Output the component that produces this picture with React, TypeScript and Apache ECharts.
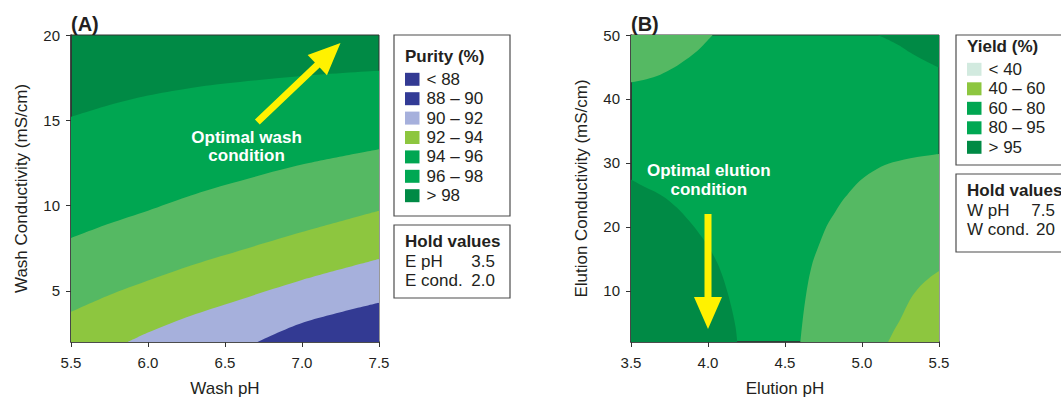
import React, { useEffect, useRef } from "react";
import * as echarts from "echarts";

const FONT = "'Liberation Sans', Arial, Helvetica, sans-serif";
const TXT = "#231f20";

// colours
const C_DKBLUE = "#333a93";
const C_LTBLUE = "#a6b0dc";
const C_YG = "#8dc63f";
const C_LTGREEN = "#55b963";
const C_GREEN = "#00a651";
const C_DKGREEN = "#008a45";
const C_PALE = "#d2eadf";
const C_ARROW = "#fff200";

// ---------- Panel A : Purity ----------
const washPhTicks = [5.5, 6.0, 6.5, 7.0, 7.5];
const washCondTicks = [5, 10, 15, 20];
// contour boundaries [wash pH, wash conductivity]
const purity98: number[][] = [[5.5, 15.2], [5.75, 15.9], [6.0, 16.45], [6.25, 16.85], [6.5, 17.15], [7.0, 17.6], [7.5, 17.9]];
const purity96: number[][] = [[5.5, 8.1], [5.75, 8.95], [6.0, 9.7], [6.25, 10.5], [6.5, 11.2], [7.0, 12.4], [7.5, 13.3]];
const purity94: number[][] = [[5.5, 3.76], [5.75, 4.75], [6.0, 5.6], [6.25, 6.4], [6.5, 7.1], [7.0, 8.45], [7.5, 9.7]];
const purity92: number[][] = [[5.87, 2], [6.0, 2.55], [6.25, 3.45], [6.5, 4.2], [7.0, 5.64], [7.5, 6.87]];
const purity90: number[][] = [[6.71, 2], [7.0, 3.12], [7.5, 4.3]];
const purityLabels = ["< 88", "88 – 90", "90 – 92", "92 – 94", "94 – 96", "96 – 98", "> 98"];
const purityColors = [C_DKBLUE, "#323b96", C_LTBLUE, C_YG, C_GREEN, "#00a853", C_DKGREEN];
const holdA = [["E pH", "3.5"], ["E cond.", "2.0"]];
const arrowA = [6.71, 14.9, 7.25, 19.53];
const noteA = { x: 6.64, y: 13.45, text: "Optimal wash\ncondition" };

// ---------- Panel B : Yield ----------
const elutionPhTicks = [3.5, 4.0, 4.5, 5.0, 5.5];
const elutionCondTicks = [10, 20, 30, 40, 50];
const yieldTopLeft: number[][] = [[3.5, 42.6], [3.6, 43.1], [3.69, 43.8], [3.78, 44.9], [3.86, 46.2], [3.93, 47.5], [3.98, 48.7], [4.03, 50]];
const yieldTopRight: number[][] = [[5.1, 50], [5.15, 49.5], [5.2, 48.9], [5.26, 48.1], [5.31, 47.3], [5.4, 46.1], [5.5, 44.9]];
const yieldRight: number[][] = [[4.6, 2], [4.62, 6.5], [4.65, 11.3], [4.68, 14.5], [4.71, 16.5], [4.77, 20.1], [4.83, 22.5], [4.88, 24.3], [4.99, 27.3], [5.1, 29.1], [5.2, 30.1], [5.35, 30.9], [5.5, 31.4]];
const yieldLow: number[][] = [[5.17, 2], [5.21, 3.9], [5.25, 5.6], [5.29, 7.6], [5.33, 9.3], [5.38, 10.8], [5.44, 12.1], [5.5, 13.1]];
const yieldBottomLeft: number[][] = [[3.5, 27.4], [3.6, 26.1], [3.67, 25.3], [3.73, 24.4], [3.82, 22.5], [3.9, 20.3], [3.96, 18.4], [4.01, 16.6], [4.06, 14.4], [4.1, 11.9], [4.13, 9.5], [4.16, 6.6], [4.18, 4.2], [4.19, 2]];
const yieldLabels = ["< 40", "40 – 60", "60 – 80", "80 – 95", "> 95"];
const yieldColors = [C_PALE, C_YG, C_GREEN, "#00a853", C_DKGREEN];
const holdB = [["W pH", "7.5"], ["W cond.", "20"]];
const arrowB = [4.0, 22.0, 4.0, 4.05];
const noteB = { x: 4.005, y: 27.3, text: "Optimal elution\ncondition" };

function band(idx: number, data: number[][], color: string, origin: "start" | "end") {
  return {
    type: "line",
    xAxisIndex: idx,
    yAxisIndex: idx,
    data,
    smooth: 0.3,
    showSymbol: false,
    symbol: "none",
    silent: true,
    z: 2,
    lineStyle: { width: 0, color },
    areaStyle: { color, opacity: 1, origin },
    clip: true,
  };
}

function arrowSeries(idx: number, v: number[]) {
  return {
    type: "custom",
    xAxisIndex: idx,
    yAxisIndex: idx,
    silent: true,
    clip: false,
    z: 10,
    data: [v],
    renderItem: (_p: any, api: any) => {
      const a = api.coord([api.value(0), api.value(1)]);
      const b = api.coord([api.value(2), api.value(3)]);
      const dx = b[0] - a[0];
      const dy = b[1] - a[1];
      const len = Math.sqrt(dx * dx + dy * dy);
      const ux = dx / len, uy = dy / len;
      const nx = -uy, ny = ux;
      const headLen = 32, headW = 28, shaftW = 7;
      const bx = b[0] - ux * headLen, by = b[1] - uy * headLen;
      const pts = [
        [a[0] + nx * shaftW / 2, a[1] + ny * shaftW / 2],
        [bx + nx * shaftW / 2, by + ny * shaftW / 2],
        [bx + nx * headW / 2, by + ny * headW / 2],
        [b[0], b[1]],
        [bx - nx * headW / 2, by - ny * headW / 2],
        [bx - nx * shaftW / 2, by - ny * shaftW / 2],
        [a[0] - nx * shaftW / 2, a[1] - ny * shaftW / 2],
      ];
      return { type: "polygon", z2: 100, shape: { points: pts }, style: { fill: C_ARROW } };
    },
  };
}

function noteSeries(idx: number, n: { x: number; y: number; text: string }) {
  return {
    type: "custom",
    xAxisIndex: idx,
    yAxisIndex: idx,
    silent: true,
    clip: false,
    z: 10,
    data: [[n.x, n.y]],
    renderItem: (_p: any, api: any) => {
      const p = api.coord([api.value(0), api.value(1)]);
      return {
        type: "text",
        x: p[0],
        y: p[1],
        z2: 100,
        style: {
          text: n.text,
          fill: "#ffffff",
          fontFamily: FONT,
          fontWeight: "bold",
          fontSize: 17,
          lineHeight: 18.5,
          align: "center",
          verticalAlign: "middle",
        },
      };
    },
  };
}

function legendBox(
  left: number, top: number, width: number, height: number,
  title: string, labels: string[], colors: string[], rowTop: number, rowGap: number
) {
  const children: any[] = [
    { type: "rect", shape: { x: left, y: top, width, height }, style: { fill: "#fff", stroke: "#4d4d4d", lineWidth: 1.2 } },
    {
      type: "text", x: left + 11, y: rowTop - 22.6,
      style: { text: title, fill: TXT, font: `bold 17px ${FONT}`, verticalAlign: "middle" },
    },
  ];
  labels.forEach((lab, i) => {
    const cy = rowTop + i * rowGap;
    children.push({ type: "rect", shape: { x: left + 11, y: cy - 6.5, width: 14.5, height: 13 }, style: { fill: colors[i] } });
    children.push({
      type: "text", x: left + 32.5, y: cy,
      style: { text: lab, fill: TXT, font: `17px ${FONT}`, verticalAlign: "middle" },
    });
  });
  return children;
}

function holdBox(left: number, top: number, width: number, height: number, rows: string[][], valueRight: number) {
  const children: any[] = [
    { type: "rect", shape: { x: left, y: top, width, height }, style: { fill: "#fff", stroke: "#4d4d4d", lineWidth: 1.2 } },
    { type: "text", x: left + 11, y: top + 16, style: { text: "Hold values", fill: TXT, font: `bold 17px ${FONT}`, verticalAlign: "middle" } },
  ];
  rows.forEach((r, i) => {
    const cy = top + 36 + i * 19.5;
    children.push({ type: "text", x: left + 11, y: cy, style: { text: r[0], fill: TXT, font: `17px ${FONT}`, verticalAlign: "middle" } });
    children.push({ type: "text", x: valueRight, y: cy, style: { text: r[1], fill: TXT, font: `17px ${FONT}`, verticalAlign: "middle", align: "right" } });
  });
  return children;
}

function xAxisCfg(idx: number, name: string, ticks: number[]) {
  return {
    type: "value",
    gridIndex: idx,
    min: ticks[0],
    max: ticks[ticks.length - 1],
    interval: 0.5,
    name,
    nameLocation: "middle",
    nameGap: 38,
    nameTextStyle: { fontFamily: FONT, fontSize: 17, color: TXT, lineHeight: 17 },
    axisLine: { show: true, onZero: false, lineStyle: { color: "#333", width: 1.6 } },
    axisTick: { show: true, length: 5, lineStyle: { color: "#333", width: 1 } },
    axisLabel: { fontFamily: FONT, fontSize: 15, color: TXT, margin: 13, formatter: (v: number) => v.toFixed(1) },
    splitLine: { show: false },
  };
}

function yAxisCfg(idx: number, name: string, ticks: number[], max: number) {
  return {
    type: "value",
    gridIndex: idx,
    min: 2,
    max,
    name,
    nameLocation: "middle",
    nameGap: 41,
    nameTextStyle: { fontFamily: FONT, fontSize: 17, color: TXT },
    axisLine: { show: true, onZero: false, lineStyle: { color: "#333", width: 1.6 } },
    axisTick: { show: true, length: 5, customValues: ticks, lineStyle: { color: "#333", width: 1 } },
    axisLabel: { fontFamily: FONT, fontSize: 15, color: TXT, margin: 11, customValues: ticks },
    splitLine: { show: false },
  };
}

export default function App() {
  const ref = useRef<HTMLDivElement>(null);
  useEffect(() => {
    if (!ref.current) return;
    const chart = echarts.init(ref.current, undefined, { renderer: "svg" });
    const option: any = {
      animation: false,
      backgroundColor: "#ffffff",
      textStyle: { fontFamily: FONT },
      grid: [
        { left: 71, top: 35, width: 308, height: 307, outerBoundsMode: "none", containLabel: false, show: true, backgroundColor: C_DKGREEN, borderColor: "#333", borderWidth: 1 },
        { left: 631, top: 35, width: 308, height: 307, outerBoundsMode: "none", containLabel: false, show: true, backgroundColor: C_GREEN, borderColor: "#333", borderWidth: 1 },
      ],
      xAxis: [xAxisCfg(0, "Wash pH", washPhTicks), xAxisCfg(1, "Elution pH", elutionPhTicks)],
      yAxis: [
        yAxisCfg(0, "Wash Conductivity (mS/cm)", washCondTicks, 20),
        yAxisCfg(1, "Elution Conductivity (mS/cm)", elutionCondTicks, 50),
      ],
      series: [
        band(0, purity98, C_GREEN, "start"),
        band(0, purity96, C_LTGREEN, "start"),
        band(0, purity94, C_YG, "start"),
        band(0, purity92, C_LTBLUE, "start"),
        band(0, purity90, C_DKBLUE, "start"),
        band(1, yieldTopLeft, C_LTGREEN, "end"),
        band(1, yieldTopRight, C_DKGREEN, "end"),
        band(1, yieldRight, C_LTGREEN, "start"),
        band(1, yieldLow, C_YG, "start"),
        band(1, yieldBottomLeft, C_DKGREEN, "start"),
        arrowSeries(0, arrowA),
        noteSeries(0, noteA),
        arrowSeries(1, arrowB),
        noteSeries(1, noteB),
      ],
      graphic: [
        { type: "text", left: 71, top: 14, style: { text: "(A)", fill: TXT, font: `bold 20px ${FONT}` } },
        { type: "text", left: 631, top: 14, style: { text: "(B)", fill: TXT, font: `bold 20px ${FONT}` } },
        { type: "group", children: legendBox(394, 35, 116, 181, "Purity (%)", purityLabels, purityColors, 79.3, 19.4) },
        { type: "group", children: holdBox(394, 225, 116, 73, holdA, 495) },
        { type: "group", children: legendBox(956, 35, 110, 130, "Yield (%)", yieldLabels, yieldColors, 69.3, 19.5) },
        { type: "group", children: holdBox(956, 174, 110, 78, holdB, 1055) },
      ],
    };
    chart.setOption(option);
    return () => chart.dispose();
  }, []);
  return <div ref={ref} style={{ position: "fixed", left: 0, top: 0, width: 1061, height: 400 }} />;
}
